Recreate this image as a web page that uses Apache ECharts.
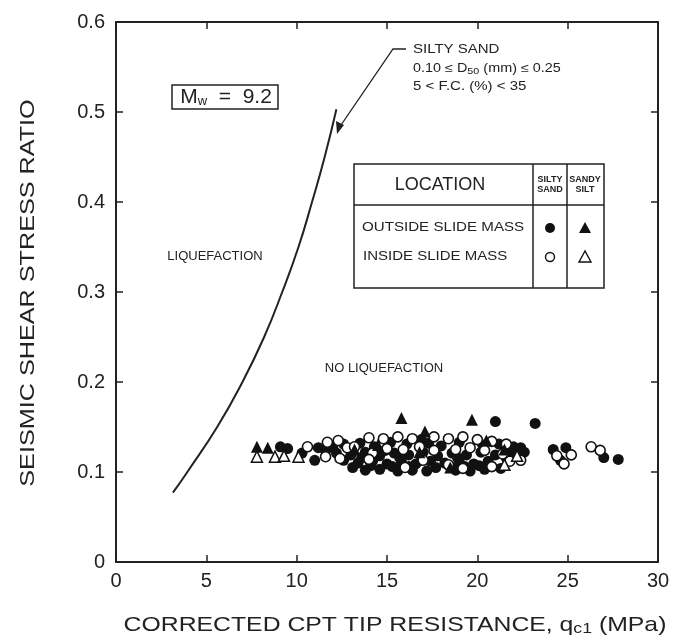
<!DOCTYPE html>
<html>
<head>
<meta charset="utf-8">
<script src="https://cdn.jsdelivr.net/npm/echarts@6/dist/echarts.min.js"></script>
<style>
  html, body { margin: 0; padding: 0; background: #fff; }
  #chart { width: 676px; height: 644px; }
</style>
</head>
<body>
<div id="chart"></div>
<script>
// boundary curve (silty sand, Mw = 9.2)
var curveQc  = [3.15, 3.95, 5.6, 7.0, 8.2, 9.2, 10.1, 10.85, 11.55, 12.2];
var curveCsr = [0.077, 0.100, 0.150, 0.200, 0.250, 0.300, 0.350, 0.400, 0.450, 0.503];

// outside slide mass, silty sand (filled circles)
var outsideSand = [
  [9.1, 0.128], [9.5, 0.126], [11.2, 0.127], [11.0, 0.113], [12.6, 0.131], [13.5, 0.132],
  [14.3, 0.128], [15.2, 0.133], [16.1, 0.131], [17.3, 0.132], [18.0, 0.129], [19.0, 0.133],
  [20.3, 0.130], [21.2, 0.131], [22.0, 0.128], [11.6, 0.124], [12.2, 0.121], [13.0, 0.119],
  [13.8, 0.122], [14.6, 0.118], [15.4, 0.121], [16.2, 0.119], [17.0, 0.122], [17.8, 0.118],
  [18.6, 0.121], [19.4, 0.119], [20.2, 0.122], [21.0, 0.119], [21.8, 0.121], [22.6, 0.122],
  [13.4, 0.110], [14.2, 0.112], [15.0, 0.109], [15.8, 0.111], [16.6, 0.109], [17.4, 0.112],
  [18.2, 0.110], [19.0, 0.111], [19.8, 0.109], [20.6, 0.112], [12.6, 0.113], [13.8, 0.102],
  [14.6, 0.103], [15.6, 0.101], [16.4, 0.102], [17.2, 0.101], [18.8, 0.102], [19.6, 0.101],
  [20.4, 0.103], [21.3, 0.104], [21.0, 0.156], [23.2, 0.154], [24.2, 0.125], [24.9, 0.127],
  [24.6, 0.113], [27.0, 0.116], [27.8, 0.114], [16.9, 0.136], [18.9, 0.116], [14.9, 0.124],
  [13.1, 0.105], [14.1, 0.107], [15.3, 0.106], [16.2, 0.106], [17.7, 0.105], [18.5, 0.106],
  [19.3, 0.106], [20.1, 0.107], [21.6, 0.116], [22.4, 0.127], [15.7, 0.116], [16.9, 0.116],
  [13.6, 0.116], [12.0, 0.127], [10.3, 0.121]
];

// inside slide mass, silty sand (open circles)
var insideSand = [
  [10.6, 0.128], [11.7, 0.133], [12.3, 0.135], [12.8, 0.127], [14.0, 0.138], [14.8, 0.137],
  [15.6, 0.139], [16.4, 0.137], [17.6, 0.139], [18.4, 0.137], [19.2, 0.139], [20.0, 0.136],
  [20.8, 0.134], [21.6, 0.131], [11.6, 0.117], [12.4, 0.115], [13.2, 0.128], [14.2, 0.121],
  [15.0, 0.126], [15.9, 0.125], [16.8, 0.128], [17.6, 0.124], [18.8, 0.125], [19.6, 0.127],
  [20.4, 0.124], [21.4, 0.120], [16.0, 0.105], [17.0, 0.113], [18.4, 0.108], [19.2, 0.104],
  [20.8, 0.106], [21.8, 0.112], [14.0, 0.114], [22.4, 0.113], [24.4, 0.118], [25.2, 0.119],
  [24.8, 0.109], [26.3, 0.128], [26.8, 0.124]
];

// outside slide mass, sandy silt (filled triangles)
var outsideSilt = [
  [7.8, 0.128], [8.4, 0.127], [15.8, 0.160], [17.1, 0.145], [19.7, 0.158], [14.5, 0.130],
  [20.5, 0.135], [16.8, 0.122], [21.5, 0.125], [13.2, 0.125], [18.5, 0.105]
];

// inside slide mass, sandy silt (open triangles)
var insideSilt = [
  [7.8, 0.117], [8.8, 0.117], [10.1, 0.117], [22.2, 0.118], [21.5, 0.108], [9.3, 0.118]
];

var xTicks = [0, 5, 10, 15, 20, 25, 30];
var yTicks = [0, 0.1, 0.2, 0.3, 0.4, 0.5, 0.6];

var ink = '#222';
var font = '"Liberation Sans", Arial, sans-serif';

var chart = echarts.init(document.getElementById('chart'));

function frameAxis(extra) {
  var base = {
    type: 'value',
    axisLine: { show: true, onZero: false, lineStyle: { color: ink, width: 2 } },
    axisTick: { show: true, inside: true, length: 7, lineStyle: { color: ink, width: 1.5 } },
    splitLine: { show: false },
    axisLabel: { show: false }
  };
  return Object.assign(base, extra);
}

var curveData = curveQc.map(function(q, i) { return [q, curveCsr[i]]; });

function note(x, y, text, size, sx, extra) {
  var style = Object.assign({ text: text, fontSize: size, fontFamily: font, fill: ink,
    verticalAlign: 'middle' }, extra || {});
  return { type: 'text', x: x, y: y, scaleX: sx, style: style, z: 11 };
}

chart.setOption({
  backgroundColor: '#fff',
  animation: false,
  grid: { left: 116, right: 18, top: 22, bottom: 82 },
  xAxis: [
    frameAxis({
      min: xTicks[0], max: xTicks[xTicks.length - 1], interval: 5,
      position: 'bottom',
      axisLabel: { show: true, margin: 9, color: ink, fontSize: 20, fontFamily: font }
    }),
    frameAxis({ min: 0, max: 30, interval: 5, position: 'top' })
  ],
  yAxis: [
    frameAxis({
      min: yTicks[0], max: yTicks[yTicks.length - 1], interval: 0.1,
      position: 'left',
      axisLabel: {
        show: true, margin: 11, color: ink, fontSize: 20, fontFamily: font,
        formatter: function(v) { return v === 0 ? '0' : v.toFixed(1); }
      }
    }),
    frameAxis({ min: 0, max: 0.6, interval: 0.1, position: 'right' })
  ],
  series: [
    {
      type: 'line', data: curveData, smooth: true, symbol: 'none',
      lineStyle: { color: ink, width: 2 }, z: 2
    },
    {
      type: 'scatter', data: outsideSand, symbol: 'circle', symbolSize: 11,
      itemStyle: { color: '#111', opacity: 1 }, z: 3
    },
    {
      type: 'scatter', data: insideSand, symbol: 'circle', symbolSize: 10,
      itemStyle: { color: '#fff', borderColor: '#111', borderWidth: 1.6, opacity: 1 }, z: 4
    },
    {
      type: 'scatter', data: outsideSilt, symbol: 'triangle', symbolSize: 12,
      itemStyle: { color: '#111', opacity: 1 }, z: 5
    },
    {
      type: 'scatter', data: insideSilt, symbol: 'triangle', symbolSize: 11,
      itemStyle: { color: '#fff', borderColor: '#111', borderWidth: 1.5, opacity: 1 }, z: 5
    }
  ],
  graphic: [
    // axis titles
    { type: 'text', x: 395, y: 625, scaleX: 1.18,
      style: {
        text: 'CORRECTED CPT TIP RESISTANCE, q{sub|c1} (MPa)',
        fontSize: 21, fontFamily: font, fill: ink, align: 'center', verticalAlign: 'middle',
        rich: { sub: { fontSize: 15, fontFamily: font, fill: ink, padding: [8, 0, 0, 0] } }
      } },
    { type: 'text', x: 28, y: 293, rotation: Math.PI / 2, scaleX: 1.2,
      style: {
        text: 'SEISMIC SHEAR STRESS RATIO',
        fontSize: 21, fontFamily: font, fill: ink, align: 'center', verticalAlign: 'middle'
      } },
    // Mw box
    { type: 'rect', shape: { x: 172, y: 85, width: 106, height: 24 },
      style: { fill: 'none', stroke: ink, lineWidth: 1.5 } },
    { type: 'text', x: 226, y: 97,
      style: {
        text: '{m|M}{w|w}{m|  =  9.2}', align: 'center', verticalAlign: 'middle',
        rich: {
          m: { fontSize: 21, fontFamily: font, fill: ink },
          w: { fontSize: 13, fontFamily: font, fill: ink, padding: [8, 0, 0, 0] }
        }
      } },
    // region labels
    note(215, 256, 'LIQUEFACTION', 13, 1, { align: 'center' }),
    note(384, 368, 'NO LIQUEFACTION', 13, 1, { align: 'center' }),
    // silty sand note and leader
    note(413, 50, 'SILTY SAND', 12, 1.25),
    { type: 'text', x: 413, y: 69, scaleX: 1.2,
      style: { text: '{t|0.10 ≤ D}{s|50}{t| (mm) ≤ 0.25}',
        verticalAlign: 'middle',
        rich: {
          t: { fontSize: 12, fontFamily: font, fill: ink },
          s: { fontSize: 9, fontFamily: font, fill: ink, padding: [5, 0, 0, 0] }
        } } },
    note(413, 87, '5 < F.C. (%) < 35', 12, 1.25),
    { type: 'polyline', shape: { points: [[406, 49], [393, 49], [339, 128]] },
      style: { fill: 'none', stroke: ink, lineWidth: 1.3 } },
    { type: 'polygon', shape: { points: [[337, 134], [336, 121], [344, 125]] },
      style: { fill: ink } },
    // legend table
    { type: 'rect', shape: { x: 354, y: 164, width: 250, height: 124 },
      style: { fill: '#fff', stroke: ink, lineWidth: 1.5 }, z: 10 },
    { type: 'line', shape: { x1: 354, y1: 205, x2: 604, y2: 205 },
      style: { stroke: ink, lineWidth: 1.5 }, z: 11 },
    { type: 'line', shape: { x1: 533, y1: 164, x2: 533, y2: 288 },
      style: { stroke: ink, lineWidth: 1.5 }, z: 11 },
    { type: 'line', shape: { x1: 567, y1: 164, x2: 567, y2: 288 },
      style: { stroke: ink, lineWidth: 1.5 }, z: 11 },
    note(440, 185, 'LOCATION', 18, 1, { align: 'center' }),
    note(550, 185, 'SILTY\nSAND', 9, 1, { align: 'center', lineHeight: 10, fontWeight: 'bold' }),
    note(585, 185, 'SANDY\nSILT', 9, 1, { align: 'center', lineHeight: 10, fontWeight: 'bold' }),
    note(362, 228, 'OUTSIDE SLIDE MASS', 12, 1.26),
    note(363, 257, 'INSIDE SLIDE MASS', 12, 1.25),
    { type: 'circle', shape: { cx: 550, cy: 228, r: 5 }, style: { fill: '#111' }, z: 11 },
    { type: 'polygon', shape: { points: [[585, 222], [579, 233], [591, 233]] },
      style: { fill: '#111' }, z: 11 },
    { type: 'circle', shape: { cx: 550, cy: 257, r: 4.5 },
      style: { fill: '#fff', stroke: '#111', lineWidth: 1.4 }, z: 11 },
    { type: 'polygon', shape: { points: [[585, 251], [579, 262], [591, 262]] },
      style: { fill: '#fff', stroke: '#111', lineWidth: 1.4 }, z: 11 }
  ]
});
</script>
</body>
</html>
